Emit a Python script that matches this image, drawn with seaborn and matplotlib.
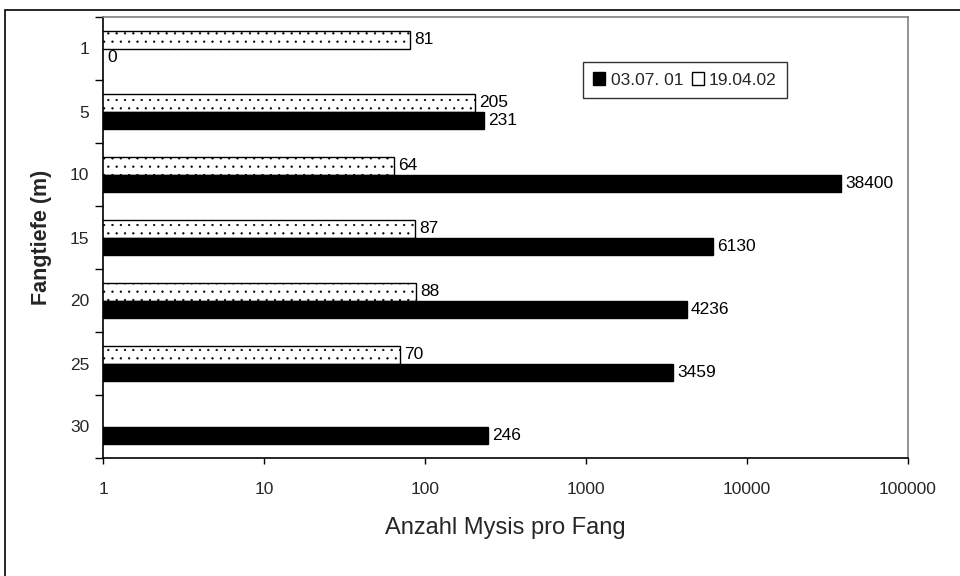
import numpy as np
import pandas as pd
import matplotlib
matplotlib.use("Agg")
import matplotlib.pyplot as plt
import matplotlib.patches as mpatches
import seaborn as sns

# data
depths = ["1", "5", "10", "15", "20", "25", "30"]
dates = ["19.04.02", "03.07. 01"]
counts_2002 = [81, 205, 64, 87, 88, 70, np.nan]   # 19.04.02 (dotted)
counts_2001 = [0, 231, 38400, 6130, 4236, 3459, 246]  # 03.07. 01 (black)
x_ticks = [1, 10, 100, 1000, 10000, 100000]

df = pd.DataFrame({
    "depth": depths * 2,
    "date": [dates[0]] * len(depths) + [dates[1]] * len(depths),
    "count": counts_2002 + counts_2001,
})

sns.set_theme(style="white")
plt.rcParams["font.family"] = ["Liberation Sans", "DejaVu Sans"]
plt.rcParams["hatch.linewidth"] = 0.4

fig = plt.figure(figsize=(9.6, 5.76), dpi=100)
ax = fig.add_axes([103 / 960, 1 - 458 / 576, 805 / 960, 441 / 576])

sns.barplot(data=df, y="depth", x="count", hue="date", hue_order=dates,
            order=depths, orient="h", width=0.54, dodge=True,
            palette={dates[0]: "white", dates[1]: "black"},
            edgecolor="black", linewidth=1, saturation=1,
            legend=False, ax=ax)

for patch in ax.containers[0]:
    patch.set_hatch("..")
    if hasattr(patch, "set_hatch_linewidth"):
        patch.set_hatch_linewidth(0.4)

ax.set_xscale("log")
ax.set_xlim(1, 100000)
ax.set_ylim(6.5, -0.5)

# value labels at the end of each bar
for container, values in zip(ax.containers, [counts_2002, counts_2001]):
    for patch, val in zip(container, values):
        if np.isnan(val):
            continue
        yc = patch.get_y() + patch.get_height() / 2
        ax.annotate(f"{int(val)}", xy=(max(val, 1), yc), xytext=(3, 0),
                    textcoords="offset points", va="center", ha="left",
                    fontsize=12.5, color="black", annotation_clip=False)

ax.set_xticks(x_ticks)
ax.set_xticklabels([str(t) for t in x_ticks])
ax.xaxis.set_minor_locator(matplotlib.ticker.NullLocator())
ax.tick_params(axis="x", which="major", bottom=True, length=4, width=1,
               color="black", labelsize=12.5, pad=13)

ax.set_yticks(range(len(depths)))
ax.set_yticklabels(depths)
ax.set_yticks(np.arange(-0.5, len(depths)), minor=True)
ax.tick_params(axis="y", which="major", left=False, length=0,
               labelsize=12.5, pad=10)
ax.tick_params(axis="y", which="minor", left=True, length=6, width=1,
               color="black")

ax.set_xlabel("Anzahl Mysis pro Fang", fontsize=17, labelpad=15)
ax.set_ylabel("Fangtiefe (m)", fontsize=15.5, fontweight="bold", labelpad=13)

for side in ["left", "bottom"]:
    ax.spines[side].set_color("black")
    ax.spines[side].set_linewidth(1.2)
for side in ["top", "right"]:
    ax.spines[side].set_color("#808080")
    ax.spines[side].set_linewidth(1.2)

handles = [
    mpatches.Patch(facecolor="black", edgecolor="black", label="03.07. 01"),
    mpatches.Patch(facecolor="white", edgecolor="black", label="19.04.02"),
]
leg = ax.legend(handles=handles, ncol=2, loc="upper left",
                bbox_to_anchor=(0.596, 0.898), borderaxespad=0,
                fontsize=12.5, frameon=True, fancybox=False,
                handlelength=0.7, handleheight=0.7, handletextpad=0.3,
                columnspacing=0.5, borderpad=0.6)
leg.get_frame().set_edgecolor("black")
leg.get_frame().set_linewidth(1)

# outer chart frame (only top and left edges visible in the picture)
fig.add_artist(mpatches.Rectangle((5 / 960, -0.5), 2, 1 - 10 / 576 + 0.5,
                                  transform=fig.transFigure, fill=False,
                                  edgecolor="black", linewidth=1.2))

fig.savefig("out.png", dpi=100)
